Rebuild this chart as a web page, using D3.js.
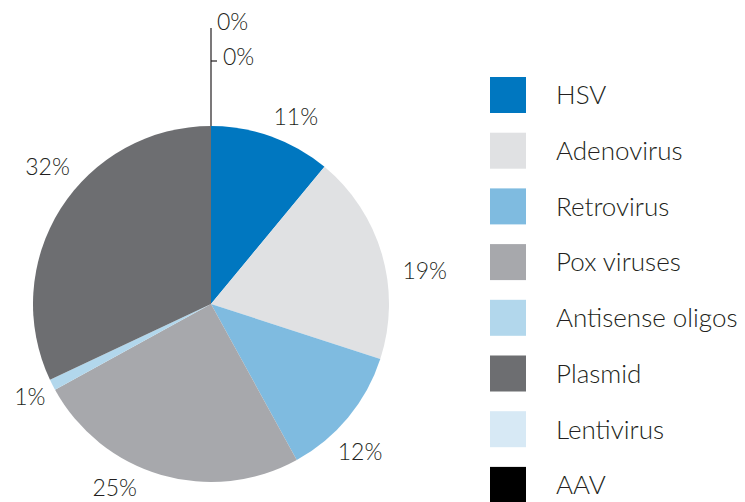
<!DOCTYPE html>
<html>
<head>
<meta charset="utf-8">
<script src="https://cdn.jsdelivr.net/npm/d3@7"></script>
<style>
  body { margin: 0; background: #fff; }
  text { font-family: Lato, "Open Sans", sans-serif; font-weight: 300; fill: #231f20; }
</style>
</head>
<body>
<svg id="pie"></svg>
<script>
// data
const categories = ["HSV", "Adenovirus", "Retrovirus", "Pox viruses", "Antisense oligos", "Plasmid", "Lentivirus", "AAV"];
const shares = [11, 19, 12, 25, 1, 32, 0, 0];
const colors = ["#0077c0", "#e0e1e3", "#7fbbe0", "#a7a8ac", "#b2d7ec", "#6d6e71", "#d7e9f5", "#000000"];

const width = 745, height = 502;
const cx = 211, cy = 304, radius = 178;

// small pixel nudges for the slice labels, as placed in the original
const labelNudge = [[14, 10], [13, 25], [-12, 15], [-38, -17], [5, -2], [13, -25]];

const svg = d3.select("#pie")
    .attr("width", width)
    .attr("height", height);

const pie = d3.pie().sort(null).value(d => d.v);
const arcs = pie(categories.map((c, i) => ({ c: c, v: shares[i], col: colors[i] })));

const arc = d3.arc().innerRadius(0).outerRadius(radius);
const labelArc = d3.arc().innerRadius(209).outerRadius(209);

const g = svg.append("g").attr("transform", "translate(" + cx + "," + cy + ")");

const filled = arcs.filter(d => d.data.v > 0);

g.selectAll("path.slice")
    .data(filled)
    .enter().append("path")
    .attr("class", "slice")
    .attr("fill", d => d.data.col)
    .attr("d", arc);

// labels for the non-zero slices
g.selectAll("text.pct")
    .data(filled)
    .enter().append("text")
    .attr("class", "pct")
    .attr("transform", (d, i) => {
        const c = labelArc.centroid(d);
        return "translate(" + (c[0] + labelNudge[i][0]) + "," + (c[1] + labelNudge[i][1]) + ")";
    })
    .attr("text-anchor", "middle")
    .attr("dy", "0.35em")
    .style("font-size", "23px")
    .text(d => d.data.v + "%");

// zero slices get a leader line going up from the top of the pie
const zeros = arcs.filter(d => d.data.v === 0);
const lineEnd = 276, tickR = [276, 243];
const pt = (a, r) => [Math.sin(a) * r, -Math.cos(a) * r];

const top0 = pt(zeros[0].startAngle % (2 * Math.PI), radius);
const top1 = pt(zeros[0].startAngle % (2 * Math.PI), lineEnd);
g.append("line")
    .attr("x1", top0[0]).attr("y1", top0[1])
    .attr("x2", top1[0]).attr("y2", top1[1])
    .attr("stroke", "#231f20").attr("stroke-width", 1.2);

zeros.forEach((d, i) => {
    const p = pt(d.startAngle % (2 * Math.PI), tickR[i]);
    if (i > 0) {
        g.append("line")
            .attr("x1", p[0]).attr("y1", p[1])
            .attr("x2", p[0] + 6).attr("y2", p[1])
            .attr("stroke", "#231f20").attr("stroke-width", 1.2);
    }
    g.append("text")
        .attr("x", p[0] + (i > 0 ? 12 : 6))
        .attr("y", p[1] + (i > 0 ? -4 : -6))
        .attr("dy", "0.35em")
        .style("font-size", "23px")
        .text(d.data.v + "%");
});

// legend
const leg = svg.append("g").attr("transform", "translate(490,77)");
const item = leg.selectAll("g.item")
    .data(categories)
    .enter().append("g")
    .attr("class", "item")
    .attr("transform", (d, i) => "translate(0," + (i * 55.7) + ")");

item.append("rect")
    .attr("width", 36).attr("height", 36)
    .attr("fill", (d, i) => colors[i]);

item.append("text")
    .attr("x", 66)
    .attr("y", 18)
    .attr("dy", "0.36em")
    .style("font-size", "26px")
    .text(d => d);
</script>
</body>
</html>
